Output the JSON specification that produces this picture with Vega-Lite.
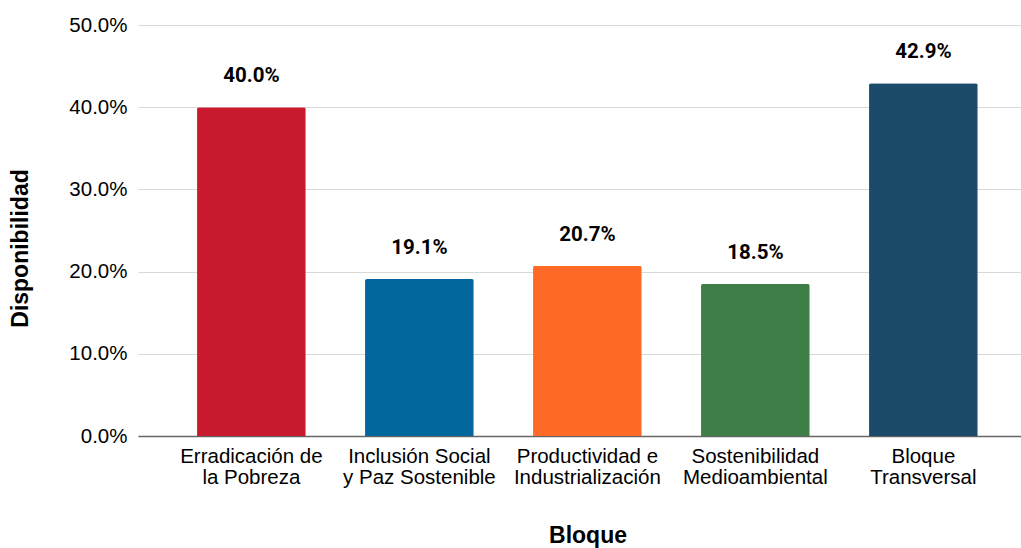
{
  "$schema": "https://vega.github.io/schema/vega-lite/v6.json",
  "width": 883,
  "height": 411,
  "autosize": {"type": "none"},
  "padding": {"left": 138, "top": 25, "right": 0, "bottom": 112},
  "background": "white",
  "data": {
    "values": [
      {"bloque": "Erradicación de|la Pobreza", "disp": 0.400},
      {"bloque": "Inclusión Social|y Paz Sostenible", "disp": 0.191},
      {"bloque": "Productividad e|Industrialización", "disp": 0.207},
      {"bloque": "Sostenibilidad|Medioambiental", "disp": 0.185},
      {"bloque": "Bloque|Transversal", "disp": 0.429}
    ]
  },
  "encoding": {
    "x": {
      "field": "bloque",
      "type": "nominal",
      "sort": null,
      "scale": {"paddingInner": 0.353, "paddingOuter": 0.3045, "align": 0.577},
      "axis": {
        "title": "Bloque",
        "titleFont": "Liberation Sans",
        "titleFontSize": 23,
        "titleFontWeight": "bold",
        "titleColor": "#000000",
        "titleX": 449.5,
        "titleY": 99,
        "titleBaseline": "middle",
        "labelExpr": "split(datum.label, '|')",
        "labelAngle": 0,
        "labelFont": "Liberation Sans",
        "labelFontSize": 20.5,
        "labelColor": "#000000",
        "labelLineHeight": 21,
        "labelPadding": 10,
        "labelBaseline": "top",
        "ticks": false,
        "domainColor": "#666666",
        "domainWidth": 1.5
      }
    }
  },
  "layer": [
    {
      "mark": {"type": "bar", "cornerRadiusTopLeft": 2, "cornerRadiusTopRight": 2},
      "encoding": {
        "y": {
          "field": "disp",
          "type": "quantitative",
          "scale": {"domain": [0, 0.5]},
          "axis": {
            "title": "Disponibilidad",
            "titleFont": "Liberation Sans",
            "titleFontSize": 23,
            "titleFontWeight": "bold",
            "titleColor": "#000000",
            "titleX": -118,
            "titleY": 223,
            "titleAngle": -90,
            "titleBaseline": "middle",
            "titleAlign": "center",
            "format": ".1%",
            "values": [0, 0.1, 0.2, 0.3, 0.4, 0.5],
            "labelFont": "Liberation Sans",
            "labelFontSize": 20.5,
            "labelColor": "#000000",
            "labelPadding": 11,
            "ticks": false,
            "domain": false,
            "grid": true,
            "gridColor": "#d9d9d9",
            "gridWidth": 1.2
          }
        },
        "color": {
          "field": "bloque",
          "type": "nominal",
          "legend": null,
          "scale": {
            "domain": ["Erradicación de|la Pobreza", "Inclusión Social|y Paz Sostenible", "Productividad e|Industrialización", "Sostenibilidad|Medioambiental", "Bloque|Transversal"],
            "range": ["#C8192E", "#02679D", "#FE6A26", "#3E7F48", "#1B4A6B"]
          }
        }
      }
    },
    {
      "mark": {"type": "text", "font": "Roboto", "fontWeight": "bold", "fontSize": 20.5, "dy": -25, "baseline": "alphabetic", "color": "#000000"},
      "encoding": {
        "y": {"field": "disp", "type": "quantitative"},
        "text": {"field": "disp", "type": "quantitative", "format": ".1%"}
      }
    }
  ],
  "config": {"view": {"stroke": null}}
}
